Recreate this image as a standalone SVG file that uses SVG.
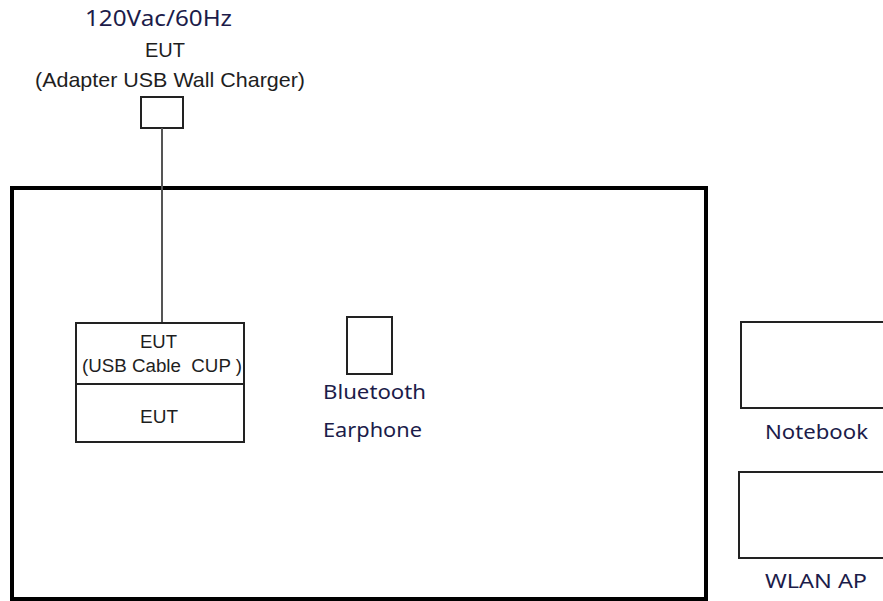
<svg xmlns="http://www.w3.org/2000/svg" width="883" height="601" viewBox="0 0 883 601">
<style>
  .box { fill: #ffffff; stroke: #222222; stroke-width: 2; }
  .frame { fill: #ffffff; stroke: #000000; stroke-width: 4; }
  .arial { font-family: "Liberation Sans", Arial, sans-serif; fill: #1e1e1e; text-anchor: middle; }
  .sans { font-family: "Noto Sans", "Open Sans", sans-serif; fill: #1c1c4a; text-anchor: middle; }
  .wire { stroke: #555555; stroke-width: 2; fill: none; }
</style>
<rect width="883" height="601" fill="#ffffff"/>
<g id="test-area">
  <rect class="frame" x="12" y="188" width="694" height="411"/>
</g>
<g id="adapter">
  <text class="sans" x="158.5" y="26" font-size="22" textLength="147" lengthAdjust="spacingAndGlyphs">120Vac/60Hz</text>
  <text class="arial" x="165" y="57" font-size="20" textLength="40" lengthAdjust="spacingAndGlyphs">EUT</text>
  <text class="arial" x="170" y="87" font-size="21" textLength="270" lengthAdjust="spacingAndGlyphs">(Adapter USB Wall Charger)</text>
  <rect class="box" x="141" y="97" width="42" height="31"/>
</g>
<g id="connectors">
  <line class="wire" x1="162" y1="128" x2="162" y2="323"/>
</g>
<g id="eut">
  <rect class="box" x="76" y="323" width="168" height="119"/>
  <line x1="76" y1="384" x2="244" y2="384" stroke="#222222" stroke-width="2"/>
  <text class="arial" x="158.5" y="348" font-size="18" textLength="37" lengthAdjust="spacingAndGlyphs">EUT</text>
  <text class="arial" x="162" y="372" font-size="18" textLength="160" lengthAdjust="spacingAndGlyphs" xml:space="preserve">(USB Cable  CUP )</text>
  <text class="arial" x="159" y="423" font-size="18" textLength="38" lengthAdjust="spacingAndGlyphs">EUT</text>
</g>
<g id="bluetooth-earphone">
  <rect class="box" x="347" y="317" width="45" height="57"/>
  <text class="sans" x="374.5" y="399" font-size="20" textLength="103" lengthAdjust="spacingAndGlyphs">Bluetooth</text>
  <text class="sans" x="372.5" y="437" font-size="20" textLength="99" lengthAdjust="spacingAndGlyphs">Earphone</text>
</g>
<g id="notebook">
  <rect class="box" x="741" y="322" width="150" height="86"/>
  <text class="sans" x="816.5" y="439" font-size="20" textLength="103" lengthAdjust="spacingAndGlyphs">Notebook</text>
</g>
<g id="wlan-ap">
  <rect class="box" x="739" y="472" width="150" height="86"/>
  <text class="sans" x="816" y="588" font-size="20" textLength="102" lengthAdjust="spacingAndGlyphs">WLAN AP</text>
</g>
</svg>
